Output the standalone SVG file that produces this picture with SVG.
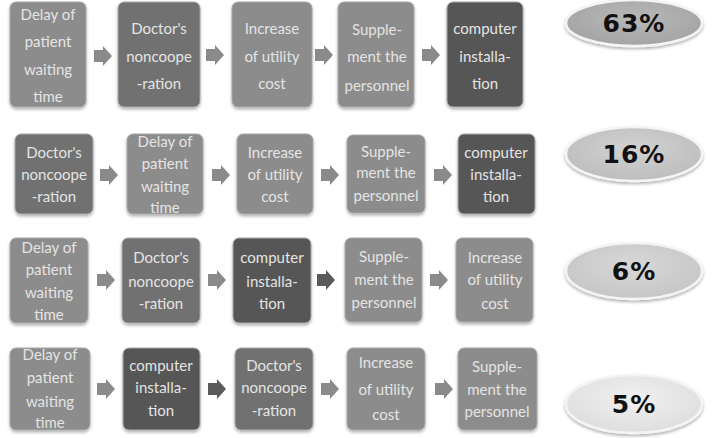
<svg xmlns="http://www.w3.org/2000/svg" width="713" height="438" viewBox="0 0 713 438">
<defs>
<style>
.b{stroke:#a8a8a8;stroke-width:1;filter:url(#sh)}
.l{fill:#8c8c8c}
.m{fill:#717171}
.d{fill:#575757}
.t{fill:#e4e4e4;font-family:Lato,"Open Sans",sans-serif;font-size:15px;text-anchor:middle}
.a{fill:#8a8a8a}
.ad{fill:#5a5a5a}
.e{stroke:#f4f4f4;stroke-width:2.5;filter:url(#sh)}
.p{fill:#111;font-family:"DejaVu Sans",sans-serif;font-weight:bold;font-size:25px;text-anchor:middle;letter-spacing:1px}
</style>
<filter id="sh" x="-10%" y="-10%" width="130%" height="130%">
<feDropShadow dx="0" dy="2" stdDeviation="1.5" flood-color="#000" flood-opacity="0.3"/>
</filter>
<radialGradient id="g1" cx="50%" cy="40%" r="60%"><stop offset="0" stop-color="#b8b8b8"/><stop offset="1" stop-color="#a4a4a4"/></radialGradient>
<radialGradient id="g2" cx="50%" cy="40%" r="60%"><stop offset="0" stop-color="#d2d2d2"/><stop offset="1" stop-color="#bdbdbd"/></radialGradient>
<radialGradient id="g3" cx="50%" cy="40%" r="60%"><stop offset="0" stop-color="#d8d8d8"/><stop offset="1" stop-color="#c6c6c6"/></radialGradient>
<radialGradient id="g4" cx="50%" cy="40%" r="60%"><stop offset="0" stop-color="#f0f0f0"/><stop offset="1" stop-color="#dedede"/></radialGradient>
<path id="arr" d="M0,-6 H9 V-10 L18,0 L9,10 V6 H0 Z"/>
</defs>
<rect width="713" height="438" fill="#ffffff"/>

<!-- Row 1 -->
<g id="r1n1"><rect class="b l" x="10" y="2" width="76" height="105" rx="6"/>
<text class="t"><tspan x="48" y="20">Delay of</tspan><tspan x="48" y="47">patient</tspan><tspan x="48" y="75">waiting</tspan><tspan x="48" y="102">time</tspan></text></g>
<g id="r1n2"><rect class="b m" x="118" y="2" width="82" height="105" rx="6"/>
<text class="t"><tspan x="159" y="34">Doctor's</tspan><tspan x="159" y="62">noncoope</tspan><tspan x="159" y="89">-ration</tspan></text></g>
<g id="r1n3"><rect class="b l" x="232" y="2" width="80" height="105" rx="6"/>
<text class="t"><tspan x="272" y="34">Increase</tspan><tspan x="272" y="62">of utility</tspan><tspan x="272" y="89">cost</tspan></text></g>
<g id="r1n4"><rect class="b l" x="338" y="2" width="76" height="105" rx="6"/>
<text class="t"><tspan x="377" y="35">Supple-</tspan><tspan x="377" y="62">ment the</tspan><tspan x="377" y="91">personnel</tspan></text></g>
<g id="r1n5"><rect class="b d" x="447" y="2" width="76" height="105" rx="6"/>
<text class="t"><tspan x="485" y="34">computer</tspan><tspan x="485" y="62">installa-</tspan><tspan x="485" y="89">tion</tspan></text></g>
<g id="r1p"><ellipse class="e" cx="634" cy="23" rx="68" ry="23" fill="url(#g1)"/><text class="p" x="634" y="32">63%</text></g>

<!-- Row 2 -->
<g id="r2n1"><rect class="b m" x="15" y="134" width="78" height="80" rx="6"/>
<text class="t"><tspan x="54" y="158">Doctor's</tspan><tspan x="54" y="180">noncoope</tspan><tspan x="54" y="202">-ration</tspan></text></g>
<g id="r2n2"><rect class="b l" x="127" y="134" width="76" height="80" rx="6"/>
<text class="t"><tspan x="165" y="147">Delay of</tspan><tspan x="165" y="169">patient</tspan><tspan x="165" y="192">waiting</tspan><tspan x="165" y="213">time</tspan></text></g>
<g id="r2n3"><rect class="b l" x="237" y="134" width="76" height="80" rx="6"/>
<text class="t"><tspan x="275" y="158">Increase</tspan><tspan x="275" y="180">of utility</tspan><tspan x="275" y="202">cost</tspan></text></g>
<g id="r2n4"><rect class="b l" x="347" y="135" width="78" height="78" rx="6"/>
<text class="t"><tspan x="386" y="157">Supple-</tspan><tspan x="386" y="178">ment the</tspan><tspan x="386" y="201">personnel</tspan></text></g>
<g id="r2n5"><rect class="b d" x="458" y="134" width="77" height="80" rx="6"/>
<text class="t"><tspan x="496" y="158">computer</tspan><tspan x="496" y="180">installa-</tspan><tspan x="496" y="202">tion</tspan></text></g>
<g id="r2p"><ellipse class="e" cx="634" cy="154" rx="68" ry="27" fill="url(#g2)"/><text class="p" x="634" y="163">16%</text></g>

<!-- Row 3 -->
<g id="r3n1"><rect class="b l" x="10" y="238" width="78" height="85" rx="6"/>
<text class="t"><tspan x="49" y="253">Delay of</tspan><tspan x="49" y="275">patient</tspan><tspan x="49" y="298">waiting</tspan><tspan x="49" y="320">time</tspan></text></g>
<g id="r3n2"><rect class="b m" x="122" y="238" width="78" height="85" rx="6"/>
<text class="t"><tspan x="161" y="263">Doctor's</tspan><tspan x="161" y="287">noncoope</tspan><tspan x="161" y="309">-ration</tspan></text></g>
<g id="r3n3"><rect class="b d" x="233" y="238" width="78" height="85" rx="6"/>
<text class="t"><tspan x="272" y="263">computer</tspan><tspan x="272" y="287">installa-</tspan><tspan x="272" y="309">tion</tspan></text></g>
<g id="r3n4"><rect class="b l" x="345" y="238" width="77" height="84" rx="6"/>
<text class="t"><tspan x="384" y="262">Supple-</tspan><tspan x="384" y="285">ment the</tspan><tspan x="384" y="308">personnel</tspan></text></g>
<g id="r3n5"><rect class="b l" x="456" y="238" width="77" height="84" rx="6"/>
<text class="t"><tspan x="495" y="263">Increase</tspan><tspan x="495" y="285">of utility</tspan><tspan x="495" y="309">cost</tspan></text></g>
<g id="r3p"><ellipse class="e" cx="634" cy="271" rx="68" ry="28" fill="url(#g3)"/><text class="p" x="634" y="280">6%</text></g>

<!-- Row 4 -->
<g id="r4n1"><rect class="b l" x="10" y="348" width="80" height="82" rx="6"/>
<text class="t"><tspan x="50" y="360">Delay of</tspan><tspan x="50" y="383">patient</tspan><tspan x="50" y="407">waiting</tspan><tspan x="50" y="428">time</tspan></text></g>
<g id="r4n2"><rect class="b d" x="123" y="348" width="77" height="82" rx="6"/>
<text class="t"><tspan x="161" y="371">computer</tspan><tspan x="161" y="393">installa-</tspan><tspan x="161" y="416">tion</tspan></text></g>
<g id="r4n3"><rect class="b m" x="235" y="348" width="78" height="82" rx="6"/>
<text class="t"><tspan x="274" y="371">Doctor's</tspan><tspan x="274" y="393">noncoope</tspan><tspan x="274" y="416">-ration</tspan></text></g>
<g id="r4n4"><rect class="b l" x="347" y="348" width="78" height="82" rx="6"/>
<text class="t"><tspan x="386" y="368">Increase</tspan><tspan x="386" y="395">of utility</tspan><tspan x="386" y="420">cost</tspan></text></g>
<g id="r4n5"><rect class="b l" x="458" y="348" width="79" height="82" rx="6"/>
<text class="t"><tspan x="497" y="372">Supple-</tspan><tspan x="497" y="395">ment the</tspan><tspan x="497" y="417">personnel</tspan></text></g>
<g id="r4p"><ellipse class="e" cx="634" cy="404" rx="68" ry="29" fill="url(#g4)"/><text class="p" x="634" y="413">5%</text></g>

<!-- Connectors -->
<g id="connectors">
<use href="#arr" class="a" x="94" y="56"/>
<use href="#arr" class="a" x="206" y="55"/>
<use href="#arr" class="a" x="315" y="55"/>
<use href="#arr" class="a" x="422" y="55"/>
<use href="#arr" class="a" x="100" y="175"/>
<use href="#arr" class="a" x="212" y="175"/>
<use href="#arr" class="a" x="321" y="175"/>
<use href="#arr" class="a" x="434" y="175"/>
<use href="#arr" class="a" x="97" y="280"/>
<use href="#arr" class="a" x="208" y="280"/>
<use href="#arr" class="ad" x="317" y="280"/>
<use href="#arr" class="a" x="430" y="280"/>
<use href="#arr" class="a" x="97" y="389"/>
<use href="#arr" class="ad" x="208" y="389"/>
<use href="#arr" class="a" x="321" y="389"/>
<use href="#arr" class="a" x="435" y="389"/>
</g>
</svg>
